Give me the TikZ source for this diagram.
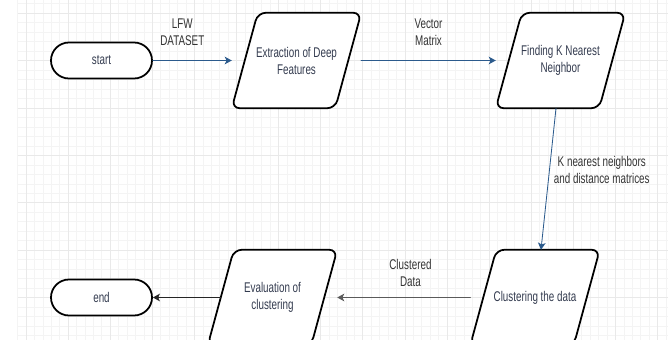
\documentclass[tikz,border=0pt]{standalone}
\usepackage{fontspec}
\setmainfont{Liberation Sans}[FakeStretch=0.7]
\usetikzlibrary{arrows.meta}
\definecolor{gridminor}{HTML}{F4F4F4}
\definecolor{gridmajor}{HTML}{E9E9E9}
\definecolor{boxtext}{HTML}{333B4F}
\definecolor{labeltext}{HTML}{333333}
\definecolor{flowblue}{HTML}{2B5A8C}
\definecolor{flowgray}{HTML}{5A5A5A}
\pgfdeclarelayer{back}
\pgfdeclarelayer{boxes}
\pgfsetlayers{back,boxes,main}

\begin{document}
\begin{tikzpicture}[x=0.03cm, y=-0.03cm, line join=round, line cap=round,
		font=\fontsize{12}{14.5}\selectfont,
		minorgrid/.style={draw=gridminor, line width=0.4pt},
		majorgrid/.style={draw=gridmajor, line width=0.5pt},
		term/.style={draw=black, fill=white, line width=1.5pt, rounded corners=0.54cm,
			minimum width=3.03cm, minimum height=1.08cm, inner sep=0pt, text=boxtext},
		io/.style={minimum width=3.87cm, minimum height=2.85cm, inner sep=0pt,
			align=center, text=boxtext},
		iobox/.style={draw=black, fill=white, line width=1.5pt, rounded corners=0.24cm},
		flow/.style={-{Stealth[length=6pt, width=6.5pt, inset=1.5pt]}, line width=1pt},
		edgelabel/.style={text=labeltext, align=center, inner sep=0pt}]
		\path[use as bounding box, clip] (0,0) rectangle (668,340);
		\begin{pgfonlayer}{back}
		\fill[white] (0,0) rectangle (668,340);
		\foreach \k in {0,...,77}
			\draw[minorgrid] ({17.5+8.42*\k},0) -- ({17.5+8.42*\k},340);
		\foreach \k in {0,...,35}
			\draw[minorgrid] (17.5,{3.5+9.487*\k}) -- (668,{3.5+9.487*\k});
		\foreach \k in {0,...,15}
			\draw[majorgrid] ({25.9+42.1*\k},0) -- ({25.9+42.1*\k},340);
		\foreach \k in {0,...,7}
			\draw[majorgrid] (17.5,{13+47.435*\k}) -- (668,{13+47.435*\k});
		\end{pgfonlayer}
		\node[term] (start) at (101.5,60.5) {start};
		\node[io] (feat) at (296.5,60.5) {Extraction of Deep\\Features};
		\node[io] (knn) at (560.5,60.5) {Finding K Nearest\\Neighbor};
		\node[io] (clus) at (535,297.5) {Clustering the data};
		\node[io] (eval) at (272.5,297.5) {Evaluation of\\clustering};
		\node[term] (stop) at (101.5,297.5) {end};
		\begin{pgfonlayer}{boxes}
		\foreach \n in {feat, knn, clus, eval}
			\draw[iobox] ([xshift=0.78cm]\n.north west) -- (\n.north east)
				-- ([xshift=-0.78cm]\n.south east) -- (\n.south west) -- cycle;
		\end{pgfonlayer}
		\draw[flow, flowblue] (start) -- (feat)
			node[edgelabel, midway, above=0.42cm, xshift=-0.3cm] {LFW\\DATASET};
		\draw[flow, flowblue] (feat) -- (knn)
			node[edgelabel, midway, above=0.42cm] {Vector\\Matrix};
		\draw[flow, flowblue, line width=0.7pt] ([xshift=-0.135cm]knn.south) -- ([xshift=0.18cm]clus.north)
			node[edgelabel, midway, right=0.15cm, yshift=0.27cm] {K nearest neighbors\\and distance matrices};
		\draw[flow, flowgray] (clus) -- (eval)
			node[edgelabel, midway, above=0.3cm, xshift=0.2cm] {Clustered\\Data};
		\draw[flow, black!85] ([xshift=0.39cm]eval.west) -- (stop);
\end{tikzpicture}
\end{document}
